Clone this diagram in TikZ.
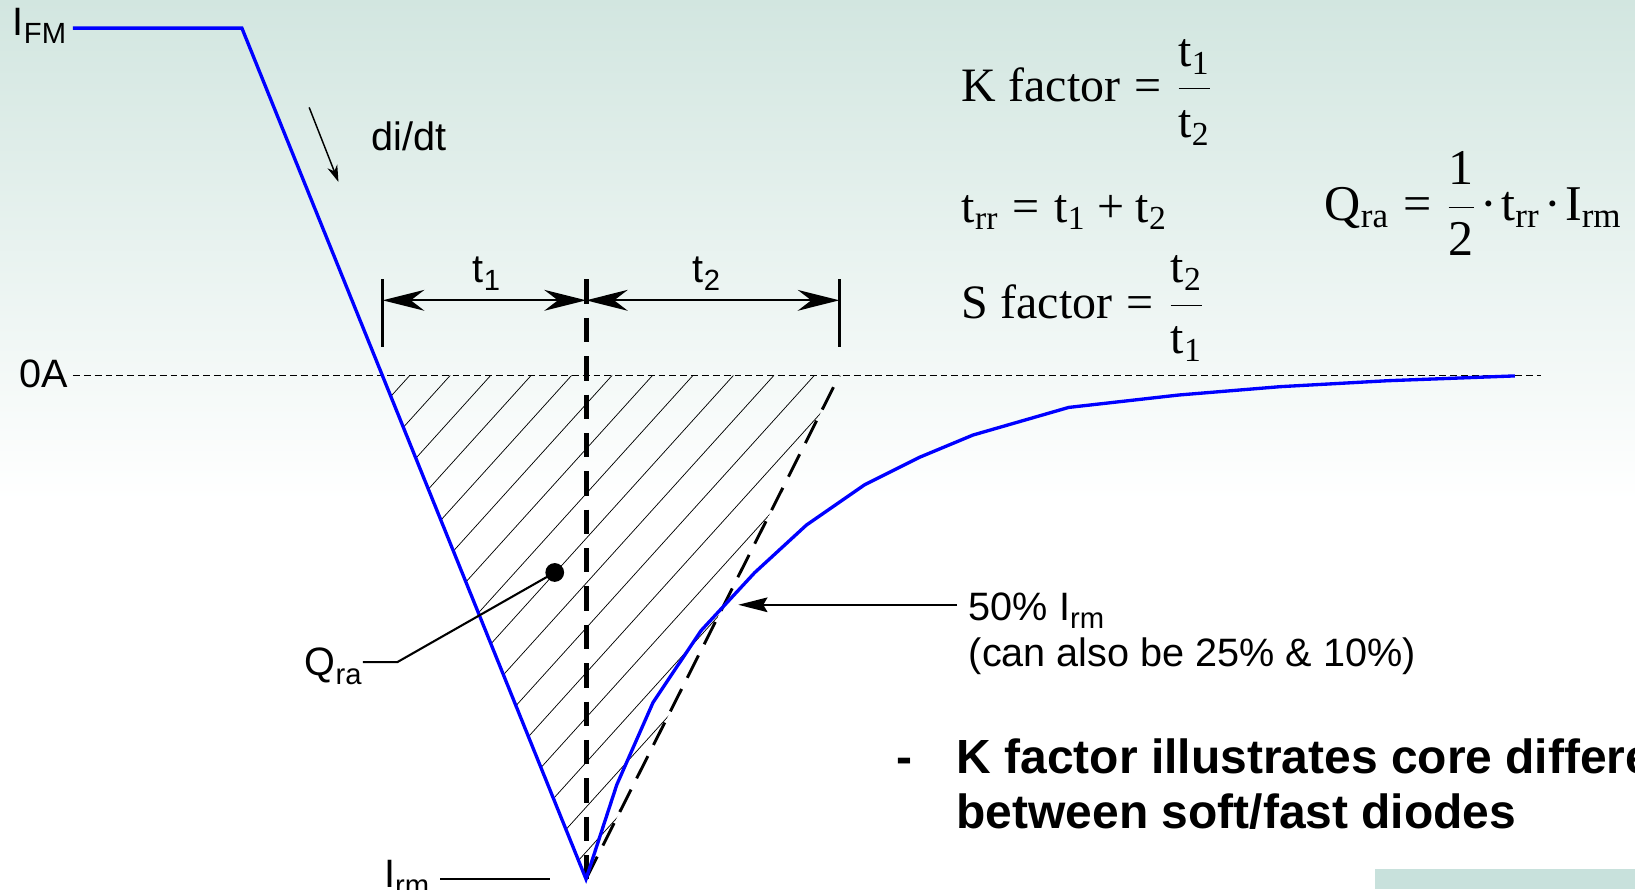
\documentclass[tikz,border=0pt]{standalone}
\usepackage{fontspec}
\setmainfont{Liberation Serif}
\newfontfamily\arialf{Liberation Sans}
\usetikzlibrary{arrows.meta}
\definecolor{bgtop}{RGB}{210,230,224}
\definecolor{curveblue}{RGB}{0,0,255}
\definecolor{bgrect}{RGB}{200,225,220}
\newcommand\lsub[1]{\raisebox{-4pt}{\fontsize{14}{14}\selectfont #1}}
\newcommand\eqs{\mathrel{\mbox{=}}}
\newcommand\pls{\mathbin{\mbox{+}}}
\newcommand\cdt{\mkern1.5mu\mbox{·}\mkern1.5mu}
\begin{document}
\begin{tikzpicture}[x=0.5pt,y=-0.5pt,
  lbl/.style={font={\arialf\fontsize{19}{19}\selectfont}, inner sep=0, anchor=base west},
  frm/.style={font={\fontsize{23}{23}\selectfont}, inner sep=0, anchor=base west},
  frmq/.style={font={\fontsize{24}{24}\selectfont}, inner sep=0, anchor=base west},
  bld/.style={font={\arialf\bfseries\fontsize{23}{23}\selectfont}, inner sep=0, anchor=base west},
  bluecurve/.style={draw=curveblue, line width=1.6pt, line join=miter},
  zeroline/.style={draw=black, line width=0.6pt, dash pattern=on 3.3pt off 1.9pt},
  vdash/.style={draw=black, line width=2.4pt, dash pattern=on 11.7pt off 6.7pt},
  tdash/.style={draw=black, line width=1.4pt, dash pattern=on 12pt off 6pt},
  tickline/.style={draw=black, line width=1.2pt},
  dimline/.style={draw=black, line width=1pt, arrows={Stealth[length=20pt,width=10pt,inset=6.5pt]-Stealth[length=20pt,width=10pt,inset=6.5pt]}},
  hatchline/.style={draw=black, line width=0.35pt},
  leadline/.style={draw=black, line width=1pt},
  ptrarrow/.style={draw=black, line width=1pt, arrows={-Stealth[length=14pt,width=7pt,inset=2pt]}},
  didtarrow/.style={draw=black, line width=0.7pt, arrows={-Stealth[length=8pt,width=5pt,inset=2.5pt]}},
]
% background
\fill[white] (0,0) rectangle (1568,853);
\shade[top color=bgtop, bottom color=white] (0,0) rectangle (1568,480);
\fill[bgrect] (1319,833) rectangle (1568,853);
\useasboundingbox (0,0) rectangle (1568,853);

% key points
\coordinate (fmS) at (70,27);
\coordinate (fmC) at (232,27);
\coordinate (vtx) at (562,843);
\coordinate (zc) at (366.7,360);
\coordinate (zl) at (70,360);
\coordinate (zr) at (1478,360);
\coordinate (tg) at (805,360);

% hatching
\begin{scope}
  \clip (zc) -- (tg) -- (vtx) -- cycle;
  \foreach \k in {-1,...,24} {
    \draw[hatchline] (393+38.8*\k,360) -- ++(-520,575.6);
  }
\end{scope}

% zero line
\draw[zeroline] (zl) -- (zr);

% dashed verticals / tangent
\draw[vdash] (562,268) -- (vtx);
\draw[tdash] (vtx) -- (tg);

% current waveform
\draw[bluecurve] (fmS) -- (fmC) -- (vtx) -- (591.5,752.6) -- (626.3,673.6) -- (672.3,604.8)
  -- (723.6,549.3) -- (773.4,503.5) -- (829,465) -- (881.7,438.6) -- (933.1,417.2)
  -- (1025,390.7) -- (1130.6,378.8) -- (1228,370.8) -- (1330.9,365.1) -- (1452.7,360.5);

% dimension marks
\coordinate (tkL1) at (367,268); \coordinate (tkL2) at (367,333);
\coordinate (tkR1) at (805,268); \coordinate (tkR2) at (805,333);
\draw[tickline] (tkL1) -- (tkL2);
\draw[tickline] (tkR1) -- (tkR2);
\coordinate (dA) at (367,288); \coordinate (dB) at (562,288); \coordinate (dC) at (805,288);
\draw[dimline] (dA) -- (dB);
\draw[dimline] (dB) -- (dC);
\node[lbl] (t1lab) at (453,271) {t\lsub{1}};
\node[lbl] (t2lab) at (664,271) {t\lsub{2}};

% labels
\node[lbl] (ifm) at (12,34) {I\lsub{FM}};
\node[lbl] (zeroA) at (18,372) {0A};
\node[lbl] (didt) at (356,144) {di/dt};
\coordinate (da1) at (296.5,103); \coordinate (da2) at (324.6,174.5);
\draw[didtarrow] (da1) -- (da2);

% Q_ra
\node[circle, fill=black, inner sep=0, minimum size=9pt] (qdot) at (532,549) {};
\node[lbl] (qlab) at (292,648) {Q\lsub{ra}};
\coordinate (qs) at (348,635); \coordinate (qk) at (381,635);
\draw[leadline] (qs) -- (qk) -- (qdot.center);

% I_rm
\node[lbl] (irm) at (368,851) {I\lsub{rm}};
\coordinate (ir1) at (422,843); \coordinate (ir2) at (527,843);
\draw[tickline] (ir1) -- (ir2);

% 50% pointer
\coordinate (p1) at (918,580); \coordinate (p2) at (708,580);
\draw[ptrarrow] (p1) -- (p2);
\node[lbl] (fifty) at (928.7,594.6) {50\% I\lsub{rm}};
\node[lbl] (canalso) at (928.7,639.4) {(can also be 25\% \& 10\%)};

% formulas
\node[frm] (kform) at (922,97.5) {$\mbox{K factor}\eqs\displaystyle\frac{\mathrm{t}_{\mathrm{1}}}{\mathrm{t}_{\mathrm{2}}}$};
\node[frm] (trrform) at (922,213) {$\mathrm{t}_{\mathrm{rr}}\eqs\mathrm{t}_{\mathrm{1}}\pls\mathrm{t}_{\mathrm{2}}$};
\node[frm] (sform) at (922,305) {$\mbox{S factor}\eqs\displaystyle\frac{\mathrm{t}_{\mathrm{2}}}{\mathrm{t}_{\mathrm{1}}}$};
\node[frmq] (qform) at (1270,211) {$\mathrm{Q}_{\mathrm{ra}}\eqs\displaystyle\frac{\mathrm{1}}{\mathrm{2}}\cdt\mathrm{t}_{\mathrm{rr}}\cdt\mathrm{I}_{\mathrm{rm}}$};

% bold note
\node[bld] (dash) at (859,742) {-};
\node[bld] (note1) at (917,742) {K factor illustrates core differe};
\node[bld] (note2) at (917,795) {between soft/fast diodes};
\end{tikzpicture}
\end{document}
